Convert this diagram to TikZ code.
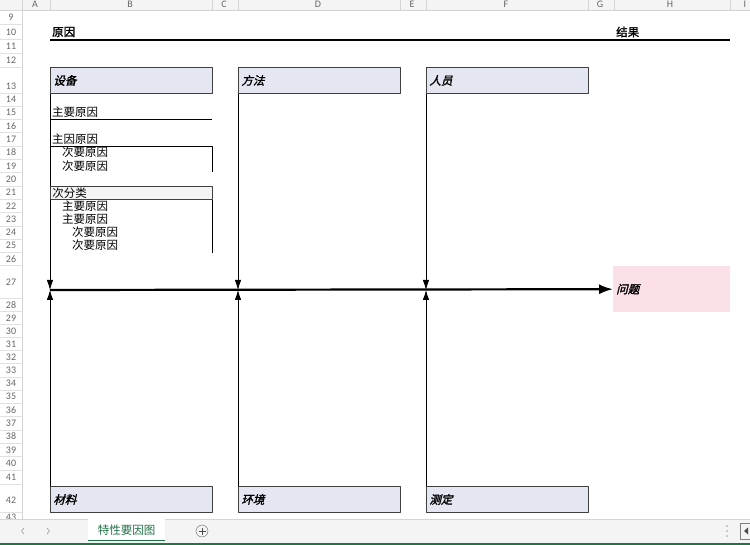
\documentclass[tikz,border=0pt]{standalone}
\usepackage{fontspec}
\newfontfamily\cjk{Noto Sans CJK SC}
\newfontfamily\cjkb[FakeBold=1.6]{Noto Sans CJK SC}
\newfontfamily\cjkbi[FakeSlant=0.25,FakeBold=1.8]{Noto Sans CJK SC}
\newfontfamily\hao{Carlito}
\usetikzlibrary{arrows.meta,positioning}
\definecolor{toulan}{HTML}{E4E7F1}
\definecolor{fenhong}{HTML}{FCE0E8}
\definecolor{biaotou}{HTML}{F4F4F4}
\definecolor{xian}{HTML}{D4D4D4}
\definecolor{lvse}{HTML}{217346}
\tikzset{
  leibie/.style={draw=black!75,fill=toulan,line width=0.9pt,text width=156pt,align=left,
    minimum height=26pt,inner sep=3pt,anchor=north west,font=\cjkbi\fontsize{11.5}{13}\selectfont},
  xiang/.style={anchor=west,inner sep=1pt},
  hangbiao/.style={text=black!60,inner sep=0pt,font=\hao\fontsize{10}{11}\selectfont},
  gu/.style={line width=0.8pt,-{Latex[length=10pt,width=6.5pt]}},
  zhugu/.style={line width=2.2pt,-{Latex[length=14pt,width=10pt]}}
}
\begin{document}
\begin{tikzpicture}[x=1pt,y=-1pt,line join=round,font=\cjk\fontsize{11.5}{13}\selectfont]
\useasboundingbox (0,0) rectangle (750,545);
% 列标与行号
\fill[biaotou] (0,0) rectangle (750,10);
\draw[xian] (0,10) -- (750,10);
\draw[xian] (22,10) -- (22,519);
\foreach \x in {22,50,212,238,400,426,588,614,730}
  \draw[xian] (\x,0) -- (\x,10);
\foreach \c/\x in {A/35,B/130,C/224,D/318,E/412,F/506,G/600,H/670,I/745}
  \node[hangbiao] at (\x,4) {\c};
\foreach \r/\y/\b in {9/17/24,10/32/39,11/46/53,12/60/67,13/86/93,14/99/106,15/112/119,
  16/126/132,17/139/146,18/152/159,19/166/172,20/179/186,21/192/199,22/206/212,
  23/219/226,24/232/239,25/245/252,26/259/265,27/282/298,28/305/311,29/318/324,
  30/331/337,31/344/350,32/357/363,33/370/377,34/383/390,35/396/403,36/410/416,
  37/423/430,38/436/443,39/450/456,40/463/470,41/477/484,42/500/512,43/517/522}{
  \node[hangbiao] at (11,\y) {\r};
  \draw[xian!70] (0,\b) -- (22,\b);
}
% 标题
\node[anchor=west,inner sep=1pt,font=\cjkb\fontsize{11.5}{13}\selectfont] (yuanyin) at (51,32) {原因};
\node[anchor=west,inner sep=1pt,font=\cjkb\fontsize{11.5}{13}\selectfont] (jieguo) at (615,32) {结果};
\draw[line width=1.6pt] (50,40) -- (730,40);
% 上方分类
\node[leibie] (shebei) at (50,67) {设备};
\node[leibie,right=25.1pt of shebei] (fangfa) {方法};
\node[leibie,right=25.1pt of fangfa] (renyuan) {人员};
% 下方分类
\node[leibie] (cailiao) at (50,486) {材料};
\node[leibie,right=25.1pt of cailiao] (huanjing) {环境};
\node[leibie,right=25.1pt of huanjing] (ceding) {测定};
% 问题与主骨
\node[fill=fenhong,anchor=north west,text width=111pt,align=left,minimum height=46pt,
  inner sep=3pt,font=\cjkbi\fontsize{11.5}{13}\selectfont] (wenti) at (613,266) {问题};
\coordinate (tou) at (50,290);
\draw[zhugu] (tou) -- (wenti.west);
% 各分类的骨
\foreach \k in {shebei,fangfa,renyuan}
  \draw[gu] (\k.south west) -- (\k.south west |- tou);
\foreach \k in {cailiao,huanjing,ceding}
  \draw[gu] (\k.north west) -- (\k.north west |- tou);
% 设备下的示例
\node[xiang] (zhuyao) at (51,112) {主要原因};
\draw[line width=0.7pt] (50,119) -- (212,119);
\node[xiang] (zhuyin) at (51,139) {主因原因};
\draw[line width=0.7pt] (50,146) -- (212,146) -- (212,172);
\node[xiang] (ciyao1) at (61,152) {次要原因};
\node[xiang] (ciyao2) at (61,166) {次要原因};
\node[draw=black!75,fill=biaotou,line width=0.7pt,anchor=north west,text width=158pt,align=left,
  minimum height=13pt,inner ysep=0pt,inner xsep=2pt] (cifenlei) at (50,186) {次分类};
\draw[line width=0.7pt] (cifenlei.south east) -- ++(0,53);
\node[xiang] (zhuyao2) at (61,206) {主要原因};
\node[xiang] (zhuyao3) at (61,219) {主要原因};
\node[xiang] (ciyao3) at (71,232) {次要原因};
\node[xiang] (ciyao4) at (71,245) {次要原因};
% 工作表标签栏
\fill[biaotou] (0,519) rectangle (750,543);
\draw[xian] (0,519) -- (750,519);
\fill[lvse] (0,542.5) rectangle (750,545);
\node[fill=white,minimum width=77pt,minimum height=21pt,inner sep=0pt,text=lvse,
  anchor=north west] (biaoqian) at (88,519) {特性要因图};
\draw[lvse,line width=1.6pt] (biaoqian.south west) -- (biaoqian.south east);
\draw[black!40,line width=0.6pt] (24,528) -- (21.5,531) -- (24,534) (47,528) -- (49.5,531) -- (47,534);
\node[draw=black!60,circle,minimum size=12pt,inner sep=0pt] (xinzeng) at (202,531) {};
\draw[black!70,line width=0.8pt] ([xshift=-3.5pt]xinzeng.center) -- ([xshift=3.5pt]xinzeng.center)
  ([yshift=-3.5pt]xinzeng.center) -- ([yshift=3.5pt]xinzeng.center);
\foreach \y in {526,531,536} \fill[black!40] (727,\y) circle (0.8pt);
\draw[black!50] (740,523) rectangle (752,539);
\fill[black!70] (744,531) -- (748,527.5) -- (748,534.5) -- cycle;
\end{tikzpicture}
\end{document}
